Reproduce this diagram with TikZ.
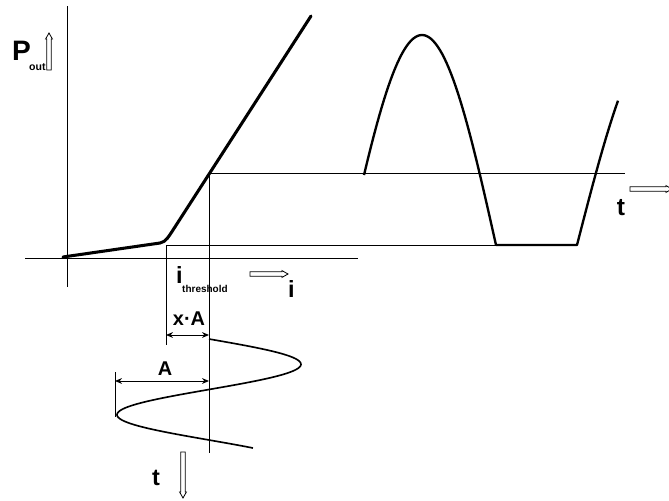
\documentclass[tikz,border=0pt]{standalone}
\usepackage{fontspec}
\setmainfont{Liberation Sans}
\usetikzlibrary{arrows.meta}

\begin{document}
\begin{tikzpicture}[x=0.03cm,y=-0.03cm,>=Stealth,
  guide/.style={line width=0.8pt},
  wave/.style={line width=2pt,line join=round},
  lbl/.style={inner sep=0pt,font=\bfseries},
  dimarrow/.style={line width=0.8pt,{Stealth[length=6pt,width=5pt]}-{Stealth[length=6pt,width=5pt]}},
  pics/hollow/.style={code={
    \draw[line width=0.7pt] (0,-2.2) -- (#1-6,-2.2) -- (#1-6,-3.4) -- (#1,0)
      -- (#1-6,3.4) -- (#1-6,2.2) -- (0,2.2) -- cycle;}}]
  \useasboundingbox (0,0) rectangle (669,500);

  % axes of the characteristic
  \draw[guide] (67,6) -- (67,287);
  \draw[guide] (25,258) -- (358,258);
  % P-i characteristic with knee at threshold
  \draw[line width=2.6pt,line cap=round] (63,257) -- (160,243)
    .. controls (166,242) and (169,236) .. (173,230) -- (311,16);

  % helper lines
  \coordinate (bias) at (209,173);
  \coordinate (thr) at (166,245);
  \draw[guide] (bias) -- (625,173);
  \draw[guide] (thr) -- (498,245);
  \draw[guide] (thr) -- (166,345);
  \draw[guide] (bias) -- (209,453);

  % clipped output wave
  \draw[wave] plot[domain=364:496,samples=60] (\x,{245-210*cos((\x-422)*90/74)})
    -- (577,245) -- plot[domain=577:618,samples=20] (\x,{245-210*sin((\x-577)*90/85)});

  % modulation current (time runs down)
  \draw[line width=1.4pt] plot[domain=339:448,samples=90] ({209+92*sin((\x-339)*3.5644)},\x);
  \coordinate (trough) at (115,372);
  \draw[guide] (trough) -- (115,417);

  % amplitudes
  \coordinate (xa1) at (166,335);
  \coordinate (xa2) at (209,335);
  \coordinate (a1) at (115,381);
  \coordinate (a2) at (209,381);
  \draw[dimarrow] (xa1) -- (xa2);
  \draw[dimarrow] (a1) -- (a2);
  \node[lbl,font=\bfseries\fontsize{17}{17}\selectfont,anchor=base] (xa) at (189,325) {x·A};
  \node[lbl,font=\bfseries\fontsize{17}{17}\selectfont,anchor=base] (amp) at (165,375) {A};

  % labels and hollow arrows
  \node[lbl,font=\bfseries\fontsize{24}{24}\selectfont,anchor=base west] (pout) at (12,60) {P};
  \node[lbl,font=\bfseries\fontsize{9}{9}\selectfont,anchor=base west] (poutsub) at (29,70) {out};
  \pic[rotate=90] at (49,70) {hollow=37};

  \node[lbl,font=\bfseries\fontsize{20}{20}\selectfont,anchor=base west] (ithr) at (176,283) {i};
  \node[lbl,font=\bfseries\fontsize{8.5}{8.5}\selectfont,anchor=base west] (ithrsub) at (182,292) {threshold};
  \pic at (250,274) {hollow=38};
  \node[lbl,font=\bfseries\fontsize{20}{20}\selectfont,anchor=base west] (iaxis) at (288,297) {i};

  \node[lbl,font=\bfseries\fontsize{21}{21}\selectfont,anchor=base] (tout) at (621,215) {t};
  \pic at (630,189) {hollow=42};

  \node[lbl,font=\bfseries\fontsize{20}{20}\selectfont,anchor=base] (tin) at (156,485) {t};
  \pic[rotate=-90] at (183,452) {hollow=46};
\end{tikzpicture}
\end{document}
